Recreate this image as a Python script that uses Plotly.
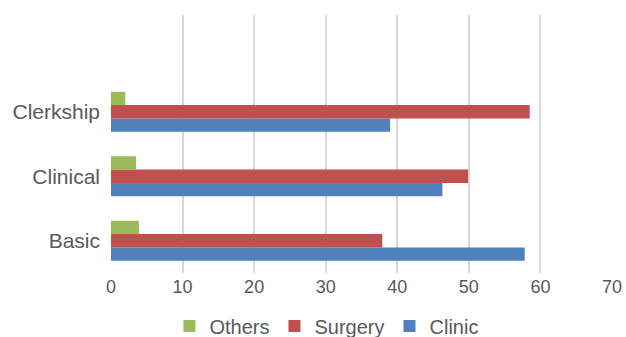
import plotly.graph_objects as go

categories = ["Basic", "Clinical", "Clerkship"]
clinic = [57.8, 46.3, 39.0]
surgery = [37.9, 49.9, 58.5]
others = [3.9, 3.5, 2.0]
x_ticks = [0, 10, 20, 30, 40, 50, 60, 70]

font_family = "Liberation Sans, Arial, Helvetica, sans-serif"
txt = "#595959"

fig = go.Figure()
fig.add_trace(go.Bar(y=categories, x=clinic, name="Clinic", orientation="h",
                     marker=dict(color="#4F81BD", line=dict(width=0))))
fig.add_trace(go.Bar(y=categories, x=surgery, name="Surgery", orientation="h",
                     marker=dict(color="#C0504D", line=dict(width=0))))
fig.add_trace(go.Bar(y=categories, x=others, name="Others", orientation="h",
                     marker=dict(color="#9BBB59", line=dict(width=0))))

fig.update_layout(
    width=626, height=337,
    margin=dict(l=111, r=14, t=15, b=64, autoexpand=False),
    paper_bgcolor="white", plot_bgcolor="white",
    barmode="group", bargap=0.38, bargroupgap=0,
    font=dict(family=font_family, color=txt),
    showlegend=True,
    legend=dict(orientation="h", traceorder="reversed",
                x=0.43, xanchor="center", y=-0.205, yanchor="middle",
                font=dict(size=20, color=txt), itemwidth=30),
    xaxis=dict(range=[0, 70], tickvals=x_ticks, showgrid=True,
               gridcolor="#D9D9D9", gridwidth=1.5, zeroline=False,
               showline=False, tickfont=dict(size=18, color=txt),
               ticks="", ticklabelstandoff=1),
    yaxis=dict(type="category", categoryarray=categories, categoryorder="array",
               range=[-0.5, 3.5], showgrid=False, zeroline=False, showline=False,
               tickfont=dict(size=21, color=txt), ticks="", ticklabelstandoff=10),
)

fig.write_html("out.html")
